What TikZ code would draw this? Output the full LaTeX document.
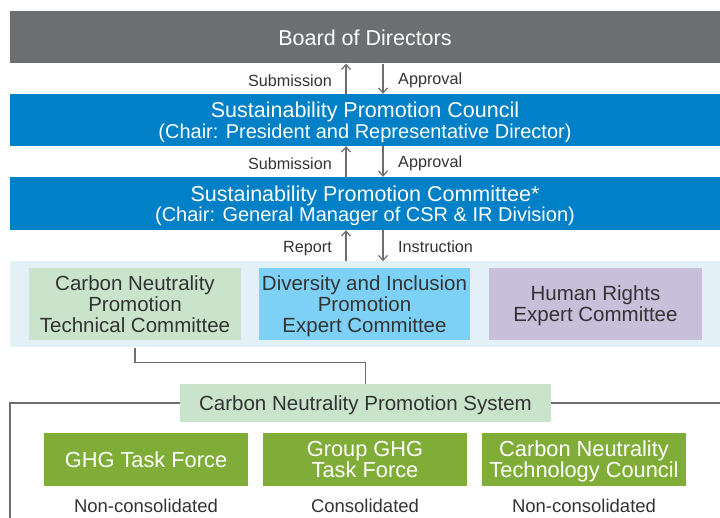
\documentclass[tikz,border=0pt]{standalone}
\usepackage{fontspec}
\setmainfont{Liberation Sans}
\usepackage{xcolor}
\usetikzlibrary{arrows.meta, positioning}
\definecolor{boardgray}{HTML}{6D6E71}
\definecolor{mainblue}{HTML}{0080C6}
\definecolor{bandblue}{HTML}{E4F0F8}
\definecolor{palegreen}{HTML}{C9E4CA}
\definecolor{skyblue}{HTML}{7ED1F6}
\definecolor{lavender}{HTML}{C8BFDA}
\definecolor{leafgreen}{HTML}{80AD37}
\definecolor{inkgray}{HTML}{333333}
\definecolor{linegray}{HTML}{6D6E71}
\newcommand{\headline}[1]{{\fontsize{21.5}{21}\selectfont #1}}

\begin{document}
\begin{tikzpicture}[x=1pt, y=-1pt,
    tier/.style={rectangle, fill=mainblue, text=white, align=center, minimum width=710pt, minimum height=52pt, inner sep=0pt, text depth=0pt, font=\fontsize{20}{20.5}\selectfont},
    body/.style={rectangle, text=inkgray, align=center, minimum width=212pt, minimum height=72pt, inner sep=0pt, text depth=0pt, font=\fontsize{20.5}{21}\selectfont},
    force/.style={rectangle, fill=leafgreen, text=white, align=center, minimum width=204pt, minimum height=53pt, inner sep=0pt, text depth=0pt, font=\fontsize{21.8}{21}\selectfont},
    tag/.style={text=inkgray, inner sep=0pt, font=\fontsize{16.2}{16}\selectfont},
    scope/.style={text=inkgray, inner sep=0pt, font=\fontsize{18.5}{19}\selectfont},
    flow/.style={-{Straight Barb[length=5pt, width=9pt]}, line width=1.2pt, color=linegray},
    wire/.style={line width=1.2pt, color=linegray}
]
\useasboundingbox (0,0) rectangle (720,518);

% upper hierarchy
\node[tier, fill=boardgray] (board) at (365,37.5) {\headline{Board of Directors}};
\node[tier] (council) at (365,120) {\headline{Sustainability Promotion Council}\\(Chair: President and Representative Director)};
\node[tier, minimum height=53pt] (committee) at (365,203.5) {\headline{Sustainability Promotion Committee*}\\(Chair: General Manager of CSR \& IR Division)};

\coordinate (upx) at (346,0);
\coordinate (downx) at (383,0);

\draw[flow] (council.north -| upx) -- (board.south -| upx);
\draw[flow] (board.south -| downx) -- (council.north -| downx);
\node[tag, anchor=east] (sub1) at (332,80.5) {Submission};
\node[tag, anchor=west] (app1) at (398,80.5) {Approval};

\draw[flow] (committee.north -| upx) -- (council.south -| upx);
\draw[flow] (council.south -| downx) -- (committee.north -| downx);
\node[tag, anchor=east] (sub2) at (332,163.5) {Submission};
\node[tag, anchor=west] (app2) at (398,163.5) {Approval};

% expert committees
\node[tier, fill=bandblue, minimum height=86pt] (band) at (365,304.5) {};
\node[body, fill=palegreen] (carbon) at (135,304) {Carbon Neutrality\\Promotion\\Technical Committee};
\node[body, fill=skyblue, minimum width=211pt] (diversity) at (364.5,304) {Diversity and Inclusion\\Promotion\\Expert Committee};
\node[body, fill=lavender, minimum width=213pt] (rights) at (595.5,304) {Human Rights\\Expert Committee};

\draw[flow] (band.north -| upx) -- (committee.south -| upx);
\draw[flow] (committee.south -| downx) -- (band.north -| downx);
\node[tag, anchor=east] (report) at (332,248.5) {Report};
\node[tag, anchor=west] (instr) at (398,246.5) {Instruction};

% carbon neutrality system
\draw[wire] (10,520) |- (722,403);
\node[body, fill=palegreen, minimum width=371pt, minimum height=38pt] (system) at (365.5,403) {Carbon Neutrality Promotion System};
\draw[wire] (band.south -| carbon) -- ++(0,15) -| (system.north);

\node[force] (ghg) at (146,459.5) {GHG Task Force};
\node[force] (group) at (365,459.5) {Group GHG\\Task Force};
\node[force] (tech) at (584,459.5) {Carbon Neutrality\\Technology Council};

\node[scope, below=13pt of ghg] (ghgscope) {Non-consolidated};
\node[scope, below=13pt of group] (groupscope) {Consolidated};
\node[scope, below=13pt of tech] (techscope) {Non-consolidated};
\end{tikzpicture}
\end{document}
